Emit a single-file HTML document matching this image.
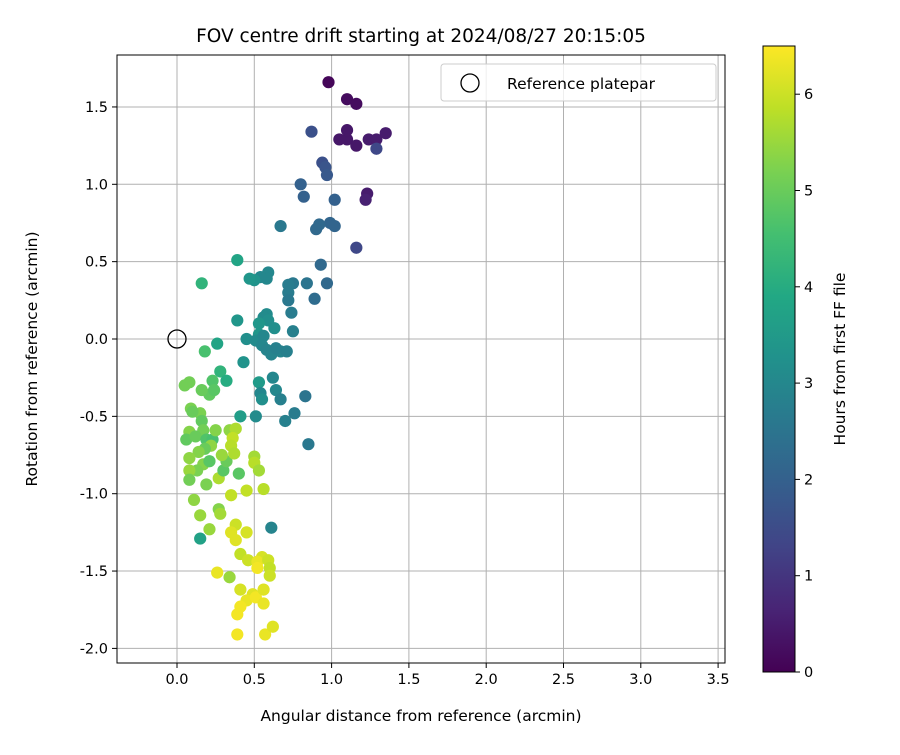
<!DOCTYPE html>
<html><head><meta charset="utf-8"><style>
body{margin:0;background:#fff;}
svg text{font-family:"DejaVu Sans","Liberation Sans",sans-serif;fill:#000;}
</style></head><body>
<svg id="chart" width="900" height="750" xmlns="http://www.w3.org/2000/svg">
<rect width="900" height="750" fill="#fff"/>
<text x="421" y="42" font-size="18.5" text-anchor="middle">FOV centre drift starting at 2024/08/27 20:15:05</text>
<g id="grid"></g><g id="pts"></g><g id="axes"></g>
<defs><linearGradient id="vir" x1="0" y1="1" x2="0" y2="0">
<stop offset="0" stop-color="#440154"/><stop offset="0.1" stop-color="#482475"/><stop offset="0.2" stop-color="#414487"/><stop offset="0.3" stop-color="#355f8d"/><stop offset="0.4" stop-color="#2a788e"/><stop offset="0.5" stop-color="#21918c"/><stop offset="0.6" stop-color="#22a884"/><stop offset="0.7" stop-color="#44bf70"/><stop offset="0.8" stop-color="#7ad151"/><stop offset="0.9" stop-color="#bddf26"/><stop offset="1" stop-color="#fde725"/></linearGradient></defs>
<rect x="763" y="46" width="32" height="626" fill="url(#vir)" stroke="#000" stroke-width="1"/>
<g id="cbticks"></g>
<text transform="translate(845,359) rotate(-90)" font-size="15.5" text-anchor="middle">Hours from first FF file</text>
<text x="421" y="721" font-size="15.5" text-anchor="middle">Angular distance from reference (arcmin)</text>
<text transform="translate(37,359) rotate(-90)" font-size="15.5" text-anchor="middle">Rotation from reference (arcmin)</text>
<g>
<rect x="441" y="64" width="275" height="37" rx="3" fill="#fff" fill-opacity="0.8" stroke="#ccc"/>
<circle cx="470" cy="83" r="9" fill="none" stroke="#000" stroke-width="1.3"/>
<text x="507" y="89" font-size="15.5">Reference platepar</text>
</g>
</svg>
<script>
const xs=[0.98,1.10,1.16,1.05,1.10,1.10,1.16,1.24,1.29,1.35,1.23,1.22,1.29,1.16,0.87,0.94,0.96,0.97,0.80,0.82,1.02,0.99,0.92,0.90,1.02,0.67,0.93,0.97,0.89,0.84,0.75,0.72,0.72,0.72,0.74,0.75,0.59,0.58,0.54,0.50,0.47,0.39,0.39,0.16,0.58,0.56,0.59,0.63,0.53,0.53,0.45,0.51,0.55,0.58,0.56,0.61,0.67,0.71,0.64,0.43,0.26,0.18,0.28,0.32,0.23,0.21,0.24,0.53,0.62,0.54,0.64,0.67,0.55,0.51,0.41,0.76,0.70,0.83,0.85,0.61,0.15,0.05,0.08,0.16,
0.09,0.15,0.10,0.16,0.17,0.08,0.06,0.12,0.19,0.23,0.25,0.22,0.18,0.14,0.08,0.17,0.21,0.13,0.08,0.19,0.08,0.11,0.15,0.21,0.27,0.30,0.32,0.34,0.38,0.36,0.35,0.37,0.29,0.40,0.50,0.50,0.53,0.45,0.35,0.56,0.27,0.28,0.38,0.35,0.38,0.45,0.41,0.46,0.55,0.52,0.59,0.60,0.52,0.60,0.26,0.34,0.41,0.49,0.45,0.51,0.56,0.56,0.41,0.39,0.39,0.57,0.62];
const ys=[1.66,1.55,1.52,1.29,1.29,1.35,1.25,1.29,1.29,1.33,0.94,0.90,1.23,0.59,1.34,1.14,1.11,1.06,1.00,0.92,0.90,0.75,0.74,0.71,0.73,0.73,0.48,0.36,0.26,0.36,0.36,0.35,0.30,0.25,0.17,0.05,0.43,0.39,0.40,0.38,0.39,0.51,0.12,0.36,0.16,0.14,0.12,0.07,0.10,0.03,0.00,-0.01,-0.04,-0.07,0.02,-0.10,-0.08,-0.08,-0.06,-0.15,-0.03,-0.08,-0.21,-0.27,-0.27,-0.36,-0.33,-0.28,-0.25,-0.35,-0.33,-0.39,-0.39,-0.50,-0.50,-0.48,-0.53,-0.37,-0.68,-1.22,-1.29,-0.30,-0.28,-0.33,
-0.45,-0.48,-0.47,-0.53,-0.59,-0.60,-0.65,-0.63,-0.65,-0.65,-0.59,-0.69,-0.71,-0.73,-0.77,-0.81,-0.79,-0.85,-0.85,-0.94,-0.91,-1.04,-1.14,-1.23,-0.90,-0.85,-0.79,-0.59,-0.58,-0.64,-0.69,-0.74,-0.75,-0.87,-0.76,-0.80,-0.85,-0.98,-1.01,-0.97,-1.10,-1.13,-1.20,-1.25,-1.30,-1.25,-1.39,-1.43,-1.41,-1.44,-1.43,-1.48,-1.48,-1.53,-1.51,-1.54,-1.62,-1.65,-1.69,-1.67,-1.62,-1.71,-1.73,-1.78,-1.91,-1.91,-1.86];
const hours=[0.1,0.2,0.2,0.4,0.4,0.4,0.4,0.5,0.5,0.5,0.5,0.6,1.4,1.4,1.6,1.6,1.7,1.8,2.0,2.0,2.0,2.1,2.2,2.2,2.1,2.6,2.2,2.2,2.3,2.5,2.6,2.7,2.7,2.6,2.7,2.8,3.0,3.0,3.0,3.3,3.4,3.8,3.4,4.2,3.1,3.1,3.2,3.2,3.4,3.4,3.2,3.1,3.0,2.9,3.0,2.9,2.9,2.8,2.8,3.3,3.8,4.6,4.2,4.0,4.7,4.9,4.8,3.5,3.0,3.0,3.0,2.8,3.2,3.1,3.6,2.7,2.8,2.5,2.6,2.9,3.7,5.1,5.1,5.0,
5.2,5.2,5.0,4.9,5.1,5.3,4.9,5.0,4.7,4.6,5.3,5.4,5.0,5.3,5.4,5.3,4.8,5.2,5.5,5.2,5.1,5.4,5.5,5.5,5.7,4.8,5.0,5.4,5.7,5.9,5.8,5.7,5.5,4.8,5.6,5.8,5.6,5.9,5.9,5.8,5.3,5.6,6.0,6.2,6.2,6.1,5.9,6.0,6.1,6.3,6.0,5.9,6.4,6.0,6.3,5.5,6.1,6.2,6.3,6.4,6.2,6.3,6.4,6.4,6.4,6.3,6.2];
const xTicks=[0.0,0.5,1.0,1.5,2.0,2.5,3.0,3.5];
const yTicks=[1.5,1.0,0.5,0.0,-0.5,-1.0,-1.5,-2.0];
const cbTicks=[0,1,2,3,4,5,6];
const X=v=>177+v*154.6, Y=v=>339-v*154.7, L=117,R=725,T=55,B=663;
const H=v=>672-v*96.3, HMAX=6.5;
const vir=["#440154","#482475","#414487","#355f8d","#2a788e","#21918c","#22a884","#44bf70","#7ad151","#bddf26","#fde725"];
function col(t){t=Math.max(0,Math.min(1,t))*10;const i=Math.min(9,Math.floor(t)),f=t-i;
const a=vir[i],b=vir[i+1];const c=k=>Math.round(parseInt(a.substr(k,2),16)*(1-f)+parseInt(b.substr(k,2),16)*f);
return `rgb(${c(1)},${c(3)},${c(5)})`;}
const NS="http://www.w3.org/2000/svg";
function mk(t,a,p){const e=document.createElementNS(NS,t);for(const k in a)e.setAttribute(k,a[k]);p.appendChild(e);return e;}
const g=document.getElementById('grid'),ax=document.getElementById('axes'),pts=document.getElementById('pts'),cb=document.getElementById('cbticks');
xTicks.forEach(v=>{const l=mk('line',{x1:X(v),x2:X(v),y1:T,y2:B,stroke:'#b0b0b0','stroke-width':1},g);


mk('line',{x1:X(v),x2:X(v),y1:B,y2:B+5,stroke:'#000'},ax);
const t=mk('text',{x:X(v),y:B+21,'font-size':'14.5','text-anchor':'middle'},ax);t.textContent=v.toFixed(1);

});
yTicks.forEach(v=>{const l=mk('line',{x1:L,x2:R,y1:Y(v),y2:Y(v),stroke:'#b0b0b0','stroke-width':1},g);


mk('line',{x1:L-5,x2:L,y1:Y(v),y2:Y(v),stroke:'#000'},ax);
const t=mk('text',{x:L-9,y:Y(v)+5,'font-size':'14.5','text-anchor':'end'},ax);t.textContent=v.toFixed(1);

});
const fr=mk('rect',{x:L,y:T,width:R-L,height:B-T,fill:'none',stroke:'#000'},ax);


xs.forEach((x,i)=>{const c=mk('circle',{cx:X(x),cy:Y(ys[i]),r:6.1,fill:col(hours[i]/HMAX)},pts);

});
const ref=mk('circle',{cx:X(0),cy:Y(0),r:9,fill:'none',stroke:'#000','stroke-width':1.3},pts);


cbTicks.forEach(v=>{mk('line',{x1:795,x2:800,y1:H(v),y2:H(v),stroke:'#000'},cb);
const t=mk('text',{x:804,y:H(v)+5,'font-size':'14.5'},cb);t.textContent=v;

});
</script>
</body></html>
